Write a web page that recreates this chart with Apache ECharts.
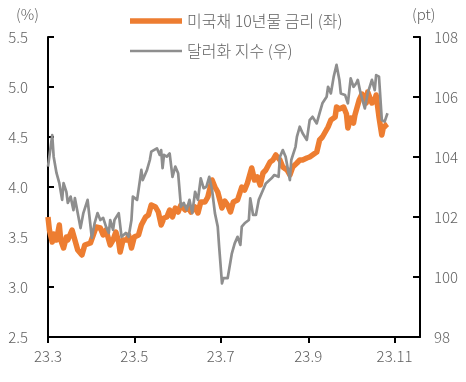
<!DOCTYPE html>
<html><head><meta charset="utf-8">
<script src="https://cdn.jsdelivr.net/npm/echarts@6/dist/echarts.min.js"></script>
<style>html,body{margin:0;padding:0;background:#fff}#c{width:466px;height:382px}</style>
</head><body><div id="c"></div>
<script>
const year = 2023;
const xStart = '03-01', xEnd = '11-19';
const tickDates = ['03-01', '05-01', '07-01', '09-01', '11-01'];
const tickLabels = ['23.3', '23.5', '23.7', '23.9', '23.11'];
const seriesNames = ['미국채 10년물 금리 (좌)', '달러화 지수 (우)'];
const leftUnit = '(%)', rightUnit = '(pt)';

// US 10Y Treasury yield (%), left axis
const ust10yDates = ['03-01','03-02','03-04','03-05','03-07','03-09','03-10','03-12','03-14','03-15','03-18','03-20','03-22','03-25','03-27','03-31',
'04-02','04-04','04-07','04-09','04-11','04-14','04-16','04-18','04-20','04-21','04-23','04-26','04-27','04-29',
'05-01','05-04','05-06','05-09','05-11','05-13','05-16','05-18','05-20','05-22','05-24','05-26','05-28','05-30',
'06-01','06-03','06-06','06-08','06-10','06-13','06-15','06-17','06-20','06-22','06-25','06-27','06-29',
'07-02','07-04','07-06','07-08','07-10','07-13','07-16','07-18','07-20','07-23','07-25','07-27','07-29','07-31',
'08-02','08-05','08-07','08-09','08-12','08-14','08-17','08-19','08-21','08-24','08-26','08-28','08-31',
'09-02','09-04','09-07','09-09','09-11','09-13','09-15','09-17','09-20','09-21','09-23','09-26','09-28','09-29',
'10-01','10-03','10-04','10-07','10-09','10-12','10-13','10-16','10-18','10-19','10-21','10-23','10-24','10-26','10-27'];
const ust10y = [3.70,3.57,3.45,3.53,3.47,3.62,3.47,3.39,3.50,3.47,3.57,3.47,3.37,3.32,3.42,3.44,
3.52,3.60,3.59,3.52,3.57,3.42,3.47,3.55,3.45,3.35,3.47,3.47,3.52,3.39,
3.50,3.52,3.62,3.70,3.72,3.82,3.80,3.75,3.62,3.69,3.70,3.77,3.70,3.79,
3.75,3.82,3.77,3.80,3.75,3.80,3.74,3.85,3.85,3.90,4.07,4.00,3.95,
3.79,3.86,3.82,3.75,3.85,3.87,4.00,3.97,4.04,4.19,4.07,4.10,4.02,4.14,
4.17,4.25,4.27,4.32,4.27,4.20,4.17,4.12,4.20,4.24,4.27,4.27,4.29,
4.30,4.32,4.35,4.47,4.50,4.55,4.60,4.67,4.70,4.80,4.78,4.80,4.73,4.59,
4.69,4.64,4.72,4.87,4.93,4.84,4.95,4.84,4.87,4.92,4.70,4.52,4.59,4.62,4.63];

// Dollar index (pt), right axis
const dxyDates = ['03-01','03-04','03-05','03-07','03-09','03-11','03-12','03-14','03-15','03-17','03-19','03-20','03-22','03-24','03-26','03-29',
'04-01','04-03','04-05','04-07','04-09','04-11','04-13','04-14','04-16','04-17','04-20','04-22','04-25','04-27','04-29','04-30',
'05-03','05-05','05-06','05-07','05-10','05-12','05-13','05-17','05-19','05-20','05-21','05-22','05-24','05-26','05-28','05-30',
'06-01','06-03','06-05','06-07','06-09','06-11','06-13','06-15','06-17','06-19','06-21','06-23','06-25','06-27','06-29','06-30',
'07-02','07-03','07-06','07-09','07-11','07-13','07-15','07-16','07-18','07-21','07-22','07-24','07-26','07-28','07-31',
'08-02','08-06','08-08','08-11','08-12','08-14','08-16','08-19','08-20','08-23','08-24','08-26','08-28','08-31',
'09-02','09-04','09-07','09-09','09-11','09-14','09-15','09-17','09-19','09-21','09-23','09-24','09-27','09-29',
'10-01','10-03','10-05','10-06','10-08','10-11','10-13','10-16','10-18','10-19','10-21','10-23','10-25','10-27'];
const dxy = [103.68,104.73,104.01,103.47,103.13,102.57,103.13,102.84,102.47,102.68,102.23,102.63,102.13,101.63,102.13,102.57,
101.30,101.80,102.13,101.90,101.97,101.68,101.47,101.90,101.57,101.90,102.13,101.34,101.47,101.34,101.90,102.68,
102.57,103.23,103.57,103.23,103.57,103.90,104.18,104.29,104.07,104.23,103.63,104.07,104.01,104.12,103.34,103.68,
103.46,102.34,102.47,102.23,102.57,102.13,102.84,102.57,103.29,102.96,103.01,103.34,102.90,102.13,101.68,101.01,
99.79,99.96,99.96,100.79,101.12,101.34,101.07,101.68,101.79,101.90,102.62,102.07,102.07,102.57,102.90,
103.12,103.29,103.40,103.34,104.01,104.23,104.01,103.23,103.90,104.34,104.68,105.01,104.79,104.57,
105.23,105.34,105.12,105.46,105.79,106.01,106.34,106.12,106.68,107.07,106.57,106.12,106.07,105.79,
106.62,106.34,106.46,106.57,106.12,105.62,106.12,106.57,106.23,106.73,106.68,105.23,105.18,105.46];

function day(s) {
  const p = s.split('-');
  return (Date.UTC(year, +p[0] - 1, +p[1]) - Date.UTC(year, 2, 1)) / 864e5;
}
const tickDays = tickDates.map(day);

const font = "'Noto Sans CJK KR', 'Noto Sans', sans-serif";
const fw = 300;
const fs = 15;
const textColor = '#5f5f5f';
const orange = '#ED7D31', gray = '#8E8E8E';
const axisLineStyle = { color: '#000', width: 2 };

const chart = echarts.init(document.getElementById('c'), null, { renderer: 'canvas' });
chart.setOption({
  animation: false,
  backgroundColor: '#fff',
  textStyle: { fontFamily: font, fontWeight: fw },
  grid: { left: 48, right: 46, top: 37, bottom: 45, containLabel: false },
  legend: {
    orient: 'vertical', left: 125, top: 8,
    itemWidth: 52, itemHeight: 16, itemGap: 14, symbolKeepAspect: true,
    textStyle: { fontSize: 16, color: textColor, fontFamily: font, fontWeight: fw },
    data: [
      { name: seriesNames[0], icon: 'path://M0,0 H52 V5.5 H0 Z', itemStyle: { color: orange } },
      { name: seriesNames[1], icon: 'path://M0,0 H104 V5.4 H0 Z', itemStyle: { color: gray } }
    ]
  },
  graphic: [
    { type: 'text', left: 16, top: 7, style: { text: leftUnit, fontSize: fs, fill: textColor, fontFamily: font, fontWeight: fw } },
    { type: 'text', left: 412, top: 7, style: { text: rightUnit, fontSize: fs, fill: textColor, fontFamily: font, fontWeight: fw } }
  ],
  xAxis: {
    type: 'value', min: day(xStart), max: day(xEnd),
    splitLine: { show: false },
    axisLine: { show: true, lineStyle: axisLineStyle },
    axisTick: { show: true, inside: false, length: 6, lineStyle: { color: '#000', width: 2 }, customValues: tickDays },
    axisLabel: {
      customValues: tickDays, margin: 12, fontSize: fs, color: textColor, fontFamily: font, fontWeight: fw,
      formatter: v => { const i = tickDays.indexOf(v); return i >= 0 ? tickLabels[i] : ''; }
    }
  },
  yAxis: [
    {
      type: 'value', position: 'left', min: 2.5, max: 5.5, interval: 0.5,
      splitLine: { show: false },
      axisLine: { show: true, lineStyle: axisLineStyle },
      axisTick: { show: true, inside: true, length: 6, lineStyle: { color: '#000', width: 2 } },
      axisLabel: { margin: 20, fontSize: fs, color: textColor, fontFamily: font, fontWeight: fw, formatter: v => v.toFixed(1) }
    },
    {
      type: 'value', position: 'right', min: 98, max: 108, interval: 2,
      splitLine: { show: false },
      axisLine: { show: true, lineStyle: axisLineStyle },
      axisTick: { show: true, inside: true, length: 7, lineStyle: { color: '#000', width: 2 } },
      axisLabel: { margin: 14, fontSize: fs, color: textColor, fontFamily: font, fontWeight: fw }
    }
  ],
  series: [
    {
      name: seriesNames[0], type: 'line', yAxisIndex: 0, symbol: 'none', smooth: false,
      lineStyle: { color: orange, width: 5.5, join: 'round' }, itemStyle: { color: orange },
      data: ust10yDates.map((d, i) => [day(d), ust10y[i]])
    },
    {
      name: seriesNames[1], type: 'line', yAxisIndex: 1, symbol: 'none', smooth: false,
      lineStyle: { color: gray, width: 2.7, join: 'round' }, itemStyle: { color: gray },
      data: dxyDates.map((d, i) => [day(d), dxy[i]])
    }
  ]
});
</script>
</body></html>
